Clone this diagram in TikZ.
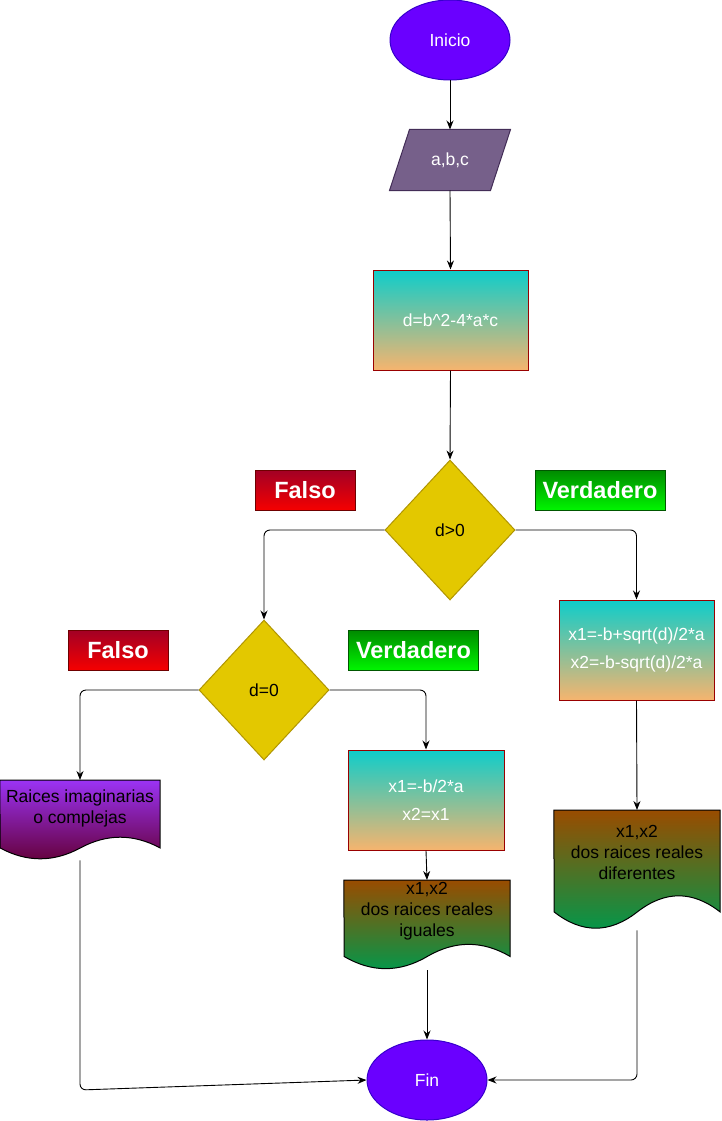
\documentclass[tikz,border=0pt]{standalone}
\usepackage{fontspec}
\setmainfont{Liberation Sans}
\usetikzlibrary{shapes.geometric,arrows.meta,calc}

\definecolor{termFill}{HTML}{6A00FF}
\definecolor{termLine}{HTML}{3700CC}
\definecolor{ioFill}{HTML}{76608A}
\definecolor{ioLine}{HTML}{432D57}
\definecolor{procTop}{HTML}{0ECDCA}
\definecolor{procBot}{HTML}{F6B46E}
\definecolor{procLine}{HTML}{990000}
\definecolor{decFill}{HTML}{E3C800}
\definecolor{decLine}{HTML}{B09500}
\definecolor{falseTop}{HTML}{A20025}
\definecolor{falseBot}{HTML}{F50000}
\definecolor{falseLine}{HTML}{6F0000}
\definecolor{trueTop}{HTML}{008A00}
\definecolor{trueBot}{HTML}{00F500}
\definecolor{trueLine}{HTML}{005700}
\definecolor{purpTop}{HTML}{9B33F5}
\definecolor{purpBot}{HTML}{640038}
\definecolor{brownTop}{HTML}{994C00}
\definecolor{greenBot}{HTML}{00994C}

% document symbol: flat top, wavy bottom; #1 node, #2 width, #3 height, #4 style
\newcommand{\docframe}[4]{%
  \path[#4] (#1.north west) -- (#1.north east) -- ++(0,{0.85*#3})
    .. controls +({-#2/6},{-0.18*#3}) and +({#2/6},{-0.18*#3}) .. ++({-#2/2},0)
    .. controls +({-#2/6},{0.18*#3}) and +({#2/6},{0.18*#3}) .. ++({-#2/2},0)
    -- cycle;}

\begin{document}
\begin{tikzpicture}[x=1pt,y=-1pt,
  base/.style={font=\fontsize{17.5}{21}\selectfont, inner sep=0pt, line width=1pt, align=center},
  terminal/.style={base, ellipse, minimum width=120pt, minimum height=80pt,
    fill=termFill, draw=termLine, text=white},
  process/.style={base, rectangle, minimum height=100pt,
    top color=procTop, bottom color=procBot, draw=procLine, text=white},
  decision/.style={base, diamond, minimum width=130pt, minimum height=140pt,
    fill=decFill, draw=decLine},
  tag/.style={font=\fontsize{23.5}{28}\selectfont\bfseries, text=white,
    minimum height=40pt, inner sep=0pt, line width=1pt},
  falsetag/.style={tag, minimum width=100pt, top color=falseTop, bottom color=falseBot, draw=falseLine},
  truetag/.style={tag, minimum width=130pt, top color=trueTop, bottom color=trueBot, draw=trueLine},
  docbox/.style={inner sep=0pt, anchor=north},
  doctext/.style={base, text=black},
  docpurple/.style={top color=purpTop, bottom color=purpBot, draw=black, line width=1pt},
  docgreen/.style={top color=brownTop, bottom color=greenBot, draw=black, line width=1pt},
  flow/.style={draw=black, line width=0.9pt, rounded corners=6pt,
    -{Stealth[length=9pt,width=7pt]}}
]
\useasboundingbox (0,0) rectangle (721,1121);

% start, input and computation
\node[terminal] (ini) at (450,40) {Inicio};
\node[base, minimum width=120pt, minimum height=60pt] (io) at (450,160) {};
\path[fill=ioFill, draw=ioLine, line width=1pt]
  ($(io.north west)+(20,0)$) -- (io.north east) -- ($(io.south east)+(-20,0)$) -- (io.south west) -- cycle;
\node[base, text=white] (iotext) at (io.center) {a,b,c};
\node[process, minimum width=155pt] (calc) at (450.5,320) {d=b\textasciicircum2-4*a*c};

% first decision
\node[decision] (d0) at (450,530) {d>0};
\node[falsetag] (f1) at (305,490) {Falso};
\node[truetag] (v1) at (600,490) {Verdadero};

% second decision
\node[decision] (dz) at (264,690) {d=0};
\node[falsetag] (f2) at (118,650) {Falso};
\node[truetag] (v2) at (413.5,650) {Verdadero};

% computations of the roots
\node[process, minimum width=155pt] (rR) at (636.5,650) {x1=-b+sqrt(d)/2*a\\[7pt]x2=-b-sqrt(d)/2*a};
\node[process, minimum width=156pt] (rM) at (426,800) {x1=-b/2*a\\[7pt]x2=x1};

% output documents
\node[docbox, minimum width=160pt, minimum height=80pt] (docL) at (80,780) {};
\docframe{docL}{160}{80}{docpurple}
\node[doctext] (docLtext) at ($(docL.north)+(0,28)$) {Raices imaginarias\\o complejas};

\node[docbox, minimum width=166pt, minimum height=90pt] (docM) at (427,880) {};
\docframe{docM}{166}{90}{docgreen}
\node[doctext] (docMtext) at ($(docM.north)+(0,31.5)$) {x1,x2\\dos raices reales\\iguales};

\node[docbox, minimum width=166pt, minimum height=120pt] (docR) at (637,810) {};
\docframe{docR}{166}{120}{docgreen}
\node[doctext] (docRtext) at ($(docR.north)+(0,42)$) {x1,x2\\dos raices reales\\diferentes};

% end
\node[terminal] (fin) at (427,1080) {Fin};
\coordinate (cornerL) at (80,1090);

% connectors
\draw[flow] (ini.south) -- (io.north);
\draw[flow] (io.south) -- (calc.north);
\draw[flow] (calc.south) -- (d0.north);
\draw[flow] (d0.west) -| (dz.north);
\draw[flow] (d0.east) -| (rR.north);
\draw[flow] (rR.south) -- (docR.north);
\draw[flow] (dz.west) -| (docL.north);
\draw[flow] (dz.east) -| (rM.north);
\draw[flow] (rM.south) -- (docM.north);
\draw[flow] (docM.south) -- (fin.north);
\draw[flow] (docL.south) -- (cornerL) -- (fin.west);
\draw[flow] (docR.south) |- (fin.east);
\end{tikzpicture}
\end{document}
